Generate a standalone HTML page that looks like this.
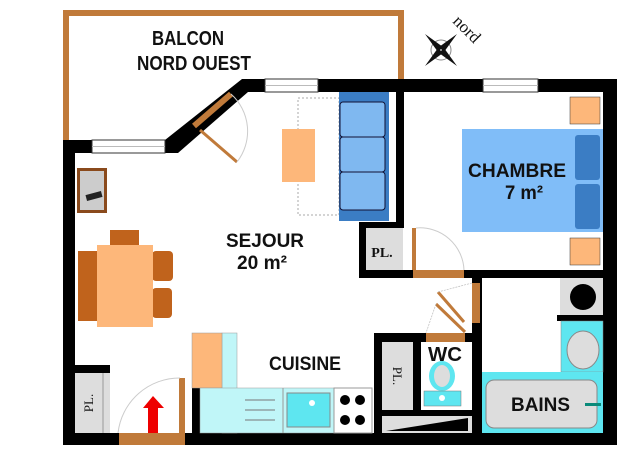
<!DOCTYPE html>
<html><head><meta charset="utf-8"><style>html,body{margin:0;padding:0;background:#fff}svg{display:block}text{font-family:"Liberation Sans",sans-serif;font-weight:bold;fill:#111}</style></head><body>
<svg width="640" height="453" viewBox="0 0 640 453" xmlns="http://www.w3.org/2000/svg">
<rect width="640" height="453" fill="#fff"/>
<path d="M66 140 V13 H401 V80" fill="none" stroke="#c07a3a" stroke-width="6"/>
<text x="152" y="45" font-size="20" textLength="72" lengthAdjust="spacingAndGlyphs">BALCON</text>
<text x="137" y="70" font-size="20" textLength="114" lengthAdjust="spacingAndGlyphs">NORD OUEST</text>
<g transform="translate(441,50)">
<circle r="10" fill="none" stroke="#888" stroke-width="1"/>
<polygon points="-16,-16 -3,2 2,-3" fill="#111"/><polygon points="16,16 3,-2 -2,3" fill="#111"/>
<polygon points="16,-16 -2,-3 3,2" fill="#111"/><polygon points="-16,16 2,3 -3,-2" fill="#111"/>
</g>
<text x="0" y="0" font-size="17" transform="translate(452,22) rotate(45)" style="font-family:'Liberation Serif',serif;font-weight:normal">nord</text>
<g fill="#000">
<rect x="63" y="140" width="12" height="305"/>
<rect x="63" y="140" width="29" height="13"/>
<polygon points="165,140 242,79 265,79 265,92 248,92 178,153 165,153"/>
<rect x="318" y="79" width="165" height="13"/>
<rect x="538" y="79" width="79" height="13"/>
<rect x="603" y="79" width="14" height="366"/>
<rect x="63" y="433" width="554" height="12"/>
<rect x="396" y="92" width="8" height="136"/>
<rect x="359" y="222" width="45" height="6"/>
<rect x="359" y="222" width="7" height="56"/>
<rect x="359" y="270" width="244" height="8"/>
<rect x="472" y="278" width="10" height="167"/>
<rect x="374" y="333" width="98" height="9"/>
<rect x="374" y="333" width="8" height="112"/>
<rect x="413" y="342" width="8" height="70"/>
<rect x="374" y="410" width="98" height="6"/>
<rect x="75" y="365" width="35" height="8"/>
<rect x="192" y="388" width="8" height="45"/>
<rect x="557" y="315" width="46" height="6"/>
</g>
<g fill="#fff" stroke="#333" stroke-width="1">
<rect x="92" y="140" width="73" height="13"/><line x1="92" y1="146.5" x2="165" y2="146.5" stroke="#bbb"/>
<rect x="265" y="79" width="53" height="13"/><line x1="265" y1="85.5" x2="318" y2="85.5" stroke="#bbb"/>
<rect x="483" y="79" width="55" height="13"/><line x1="483" y1="85.5" x2="538" y2="85.5" stroke="#bbb"/>
</g>
<line x1="194" y1="126" x2="231" y2="94" stroke="#c07a3a" stroke-width="6"/>
<line x1="200" y1="130" x2="237" y2="162" stroke="#c07a3a" stroke-width="3"/>
<path d="M237 162 A50 50 0 0 0 231 94" fill="none" stroke="#ccc"/>
<rect x="77" y="168" width="30" height="45" fill="#8a4a1c"/><rect x="80" y="171" width="24" height="39" fill="#ccc"/>
<rect x="86" y="193" width="16" height="6" fill="#222" transform="rotate(-15 94 196)"/>
<rect x="298" y="98" width="41" height="117" fill="none" stroke="#aaa" stroke-dasharray="2,2"/>
<rect x="282" y="129" width="33" height="53" fill="#fdb77a"/>
<rect x="339" y="92" width="50" height="129" fill="#3b7dc4"/>
<rect x="340" y="102" width="45" height="35" rx="3" fill="#7fb8f0" stroke="#113"/>
<rect x="340" y="137" width="45" height="35" rx="3" fill="#7fb8f0" stroke="#113"/>
<rect x="340" y="172" width="45" height="38" rx="3" fill="#7fb8f0" stroke="#113"/>
<rect x="570" y="97" width="30" height="27" fill="#fdb77a" stroke="#333" stroke-width="0.5"/>
<rect x="570" y="238" width="30" height="27" fill="#fdb77a" stroke="#333" stroke-width="0.5"/>
<rect x="462" y="129" width="141" height="103" fill="#80bdf8"/>
<rect x="575" y="135" width="25" height="45" rx="3" fill="#3b7dc4"/>
<rect x="575" y="184" width="25" height="45" rx="3" fill="#3b7dc4"/>
<text x="468" y="177" font-size="19" textLength="98" lengthAdjust="spacingAndGlyphs">CHAMBRE</text>
<text x="505" y="199" font-size="19" textLength="38" lengthAdjust="spacingAndGlyphs">7 m²</text>
<rect x="366" y="228" width="37" height="42" fill="#ddd"/>
<text x="382" y="257" font-size="14" text-anchor="middle" style="font-family:'Liberation Serif',serif">PL.</text>
<rect x="412" y="228" width="4" height="42" fill="#c07a3a"/>
<rect x="413" y="270" width="51" height="8" fill="#c07a3a"/>
<path d="M416 228 A44 44 0 0 1 464 270" fill="none" stroke="#ccc"/>
<rect x="110" y="230" width="29" height="15" fill="#c0631c"/>
<rect x="78" y="251" width="20" height="70" fill="#c0631c"/>
<rect x="152" y="251" width="21" height="30" rx="4" fill="#c0631c"/>
<rect x="152" y="288" width="20" height="30" rx="4" fill="#c0631c"/>
<rect x="97" y="245" width="56" height="82" fill="#fdb77a"/>
<text x="226" y="247" font-size="19" textLength="78" lengthAdjust="spacingAndGlyphs">SEJOUR</text>
<text x="237" y="269" font-size="19" textLength="50" lengthAdjust="spacingAndGlyphs">20 m²</text>
<rect x="75" y="373" width="35" height="60" fill="#ddd"/><line x1="103" y1="373" x2="103" y2="433" stroke="#999"/>
<text transform="translate(93,403) rotate(-90)" font-size="13" text-anchor="middle" style="font-family:'Liberation Serif',serif;font-weight:normal">PL.</text>
<rect x="119" y="433" width="66" height="12" fill="#c07a3a"/>
<rect x="179" y="378" width="6" height="55" fill="#c07a3a"/>
<path d="M118 433 A62 62 0 0 1 180 378" fill="none" stroke="#ccc"/>
<rect x="148" y="407" width="10" height="26" fill="#e00"/><polygon points="143,408 153,396 164,408" fill="#e00"/>
<rect x="222" y="333" width="15" height="100" fill="#c0f6f8" stroke="#999" stroke-width="0.5"/>
<rect x="192" y="333" width="30" height="55" fill="#fdb77a" stroke="#999" stroke-width="0.5"/>
<rect x="200" y="388" width="172" height="45" fill="#c0f6f8" stroke="#999" stroke-width="0.5"/>
<line x1="283" y1="388" x2="283" y2="433" stroke="#999"/>
<g stroke="#777"><line x1="245" y1="400" x2="275" y2="400"/><line x1="245" y1="410" x2="275" y2="410"/><line x1="245" y1="420" x2="275" y2="420"/></g>
<rect x="287" y="393" width="43" height="34" fill="#5ee6f0" stroke="#888"/>
<circle cx="312" cy="403" r="3" fill="#fff"/>
<rect x="334" y="388" width="38" height="45" fill="#fff" stroke="#999"/>
<g fill="#000"><circle cx="345" cy="400" r="5"/><circle cx="360" cy="400" r="5"/><circle cx="345" cy="420" r="5"/><circle cx="360" cy="420" r="5"/></g>
<text x="269" y="370" font-size="19" textLength="72" lengthAdjust="spacingAndGlyphs">CUISINE</text>
<rect x="382" y="342" width="31" height="68" fill="#ddd"/>
<text transform="translate(393,376) rotate(90)" font-size="13" text-anchor="middle" style="font-family:'Liberation Serif',serif;font-weight:normal">PL.</text>
<text x="428" y="361" font-size="20" textLength="34" lengthAdjust="spacingAndGlyphs">WC</text>
<ellipse cx="442" cy="376" rx="13" ry="15" fill="#5ee6f0"/><ellipse cx="442" cy="376" rx="8" ry="11" fill="#ddd"/>
<rect x="424" y="391" width="37" height="15" fill="#5ee6f0" stroke="#777" stroke-width="0.5"/><circle cx="442" cy="398" r="3" fill="#fff"/>
<rect x="382" y="416" width="90" height="17" fill="#ddd"/><polygon points="386,431 468,418 468,431" fill="#000"/>
<rect x="426" y="333" width="39" height="9" fill="#c07a3a"/>
<rect x="472" y="283" width="8" height="40" fill="#c07a3a"/>
<g stroke="#c07a3a" stroke-width="3"><line x1="464" y1="322" x2="438" y2="292"/><line x1="465" y1="332" x2="436" y2="304"/></g>
<path d="M436 304 L426 333 M438 292 L472 283" fill="none" stroke="#bbb" stroke-width="0.7" stroke-dasharray="2,1"/>
<rect x="560" y="278" width="43" height="37" fill="#ddd"/><circle cx="583" cy="297" r="13" fill="#000"/>
<rect x="561" y="321" width="42" height="51" fill="#5ee6f0" stroke="#888" stroke-width="0.5"/>
<ellipse cx="583" cy="350" rx="16" ry="19" fill="#ddd" stroke="#888"/>
<rect x="482" y="372" width="121" height="61" fill="#5ee6f0"/>
<rect x="486" y="380" width="111" height="48" rx="8" fill="#ddd" stroke="#888"/>
<rect x="585" y="403" width="16" height="3" fill="#0a8a7a"/>
<text x="511" y="411" font-size="19" textLength="59" lengthAdjust="spacingAndGlyphs">BAINS</text>
</svg>
</body></html>
